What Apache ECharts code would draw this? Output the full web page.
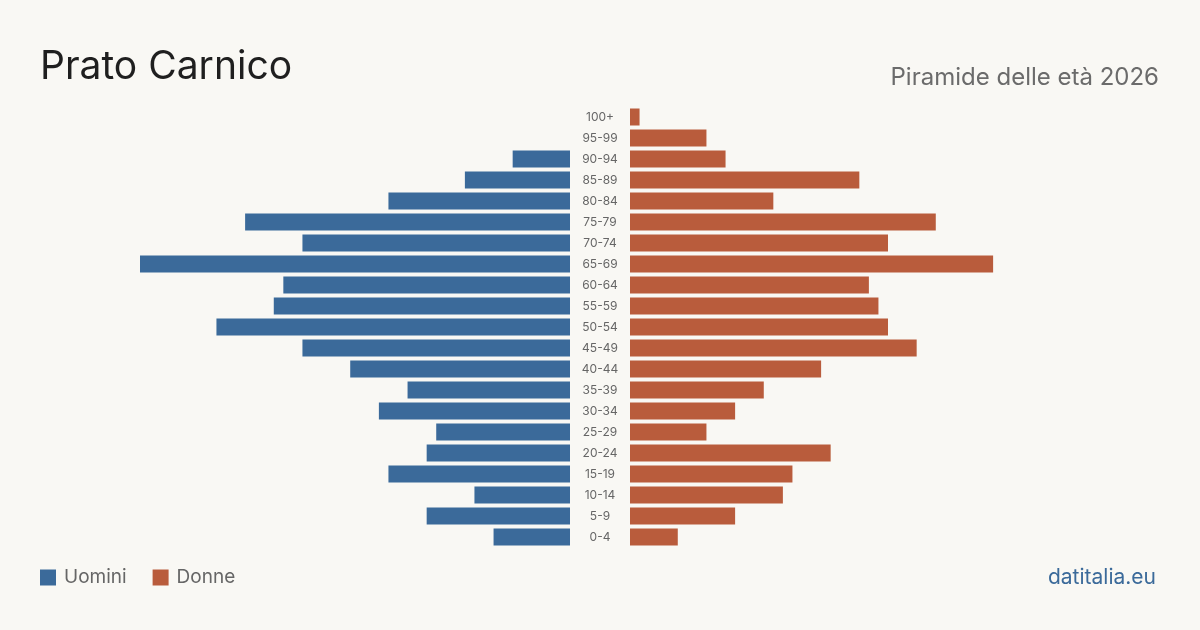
<!DOCTYPE html>
<html>
<head>
<meta charset="utf-8">
<script src="https://cdn.jsdelivr.net/npm/echarts@6/dist/echarts.min.js"></script>
<style>
  html, body { margin: 0; padding: 0; background: #f9f8f4; }
  #chart { width: 1200px; height: 630px; }
</style>
</head>
<body>
<div id="chart"></div>
<script>
// fasce d'età, dal basso verso l'alto
const ageGroups = ['0-4', '5-9', '10-14', '15-19', '20-24', '25-29', '30-34', '35-39', '40-44', '45-49',
  '50-54', '55-59', '60-64', '65-69', '70-74', '75-79', '80-84', '85-89', '90-94', '95-99', '100+']

const men = [8, 15, 10, 19, 15, 14, 20, 17, 23, 28, 37, 31, 30, 45, 28, 34, 19, 11, 6, 0, 0]
const women = [5, 11, 16, 17, 21, 8, 11, 14, 20, 30, 27, 26, 25, 38, 27, 32, 15, 24, 10, 8, 1]

const maxValue = 45

const blue = '#3b6a9a'
const orange = '#b95c3c'
const font = 'Inter, "Open Sans", sans-serif'

const chart = echarts.init(document.getElementById('chart'))

const option = {
  backgroundColor: '#f9f8f4',
  animation: false,
  title: [
    {
      text: 'Prato Carnico',
      left: 35,
      top: 43,
      textStyle: { fontFamily: font, fontSize: 39, fontWeight: 400, color: '#1f1f1f' }
    },
    {
      text: 'Piramide delle età 2026',
      right: 36,
      top: 61,
      textStyle: { fontFamily: font, fontSize: 24, fontWeight: 400, color: '#6b6b6b' }
    },
    {
      text: 'datitalia.eu',
      right: 39,
      top: 562,
      textStyle: { fontFamily: font, fontSize: 21, fontWeight: 400, color: '#3b6a9a' }
    }
  ],
  legend: {
    left: 35,
    top: 563,
    icon: 'rect',
    itemWidth: 16,
    itemHeight: 16,
    itemGap: 26,
    textStyle: { fontFamily: font, fontSize: 19, color: '#666', padding: [0, 0, 0, 3] },
    data: ['Uomini', 'Donne']
  },
  grid: [
    { left: 140, width: 430, top: 106.5, height: 441 },
    { left: 630, width: 430, top: 106.5, height: 441 }
  ],
  xAxis: [
    { gridIndex: 0, type: 'value', min: 0, max: maxValue, inverse: true, show: false },
    { gridIndex: 1, type: 'value', min: 0, max: maxValue, show: false }
  ],
  yAxis: [
    {
      gridIndex: 0, type: 'category', data: ageGroups, position: 'right',
      axisLine: { show: false }, axisTick: { show: false }, axisLabel: { show: false }
    },
    {
      gridIndex: 1, type: 'category', data: ageGroups, position: 'left',
      axisLine: { show: false }, axisTick: { show: false },
      axisLabel: { margin: 30, align: 'center', fontFamily: font, fontSize: 12, color: '#666' }
    }
  ],
  series: [
    {
      name: 'Uomini', type: 'bar', xAxisIndex: 0, yAxisIndex: 0,
      data: men, barWidth: 17, itemStyle: { color: blue }
    },
    {
      name: 'Donne', type: 'bar', xAxisIndex: 1, yAxisIndex: 1,
      data: women, barWidth: 17, itemStyle: { color: orange }
    }
  ]
}

chart.setOption(option)
</script>
</body>
</html>
